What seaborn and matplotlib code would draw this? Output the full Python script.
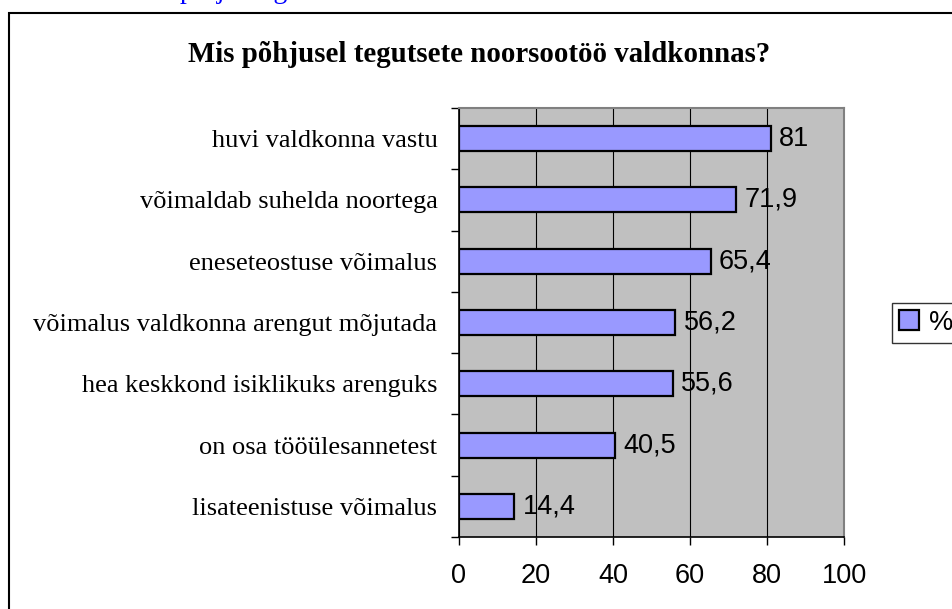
import matplotlib
matplotlib.use('Agg')
import matplotlib.pyplot as plt
from matplotlib.patches import Rectangle
import seaborn as sns
import pandas as pd

categories = ['huvi valdkonna vastu', 'võimaldab suhelda noortega', 'eneseteostuse võimalus',
              'võimalus valdkonna arengut mõjutada', 'hea keskkond isiklikuks arenguks',
              'on osa tööülesannetest', 'lisateenistuse võimalus']
values = [81, 71.9, 65.4, 56.2, 55.6, 40.5, 14.4]
value_labels = ['81', '71,9', '65,4', '56,2', '55,6', '40,5', '14,4']
x_ticks = [0, 20, 40, 60, 80, 100]

df = pd.DataFrame({'reason': categories, 'pct': values})

fig = plt.figure(figsize=(9.52, 6.09), dpi=100)
ax = fig.add_axes([459/952, 1 - 537/609, 385/952, 429/609])

sns.barplot(x='pct', y='reason', data=df, orient='h', color='#9999FF',
            edgecolor='black', linewidth=1.6, width=0.41, saturation=1, ax=ax)

ax.set_facecolor('#C0C0C0')
ax.set_xlim(0, 100)
ax.set_ylim(len(categories) - 0.5, -0.5)
ax.set_xlabel('')
ax.set_ylabel('')

# vertical grid
ax.set_xticks(x_ticks)
ax.set_xticklabels([str(t) for t in x_ticks], fontsize=19.5, family='Liberation Sans')
ax.xaxis.grid(True, color='black', linewidth=0.8)
ax.set_axisbelow(True)
ax.tick_params(axis='x', length=6, width=1, pad=13, colors='black')

# category boundaries as ticks, labels in the middle
ax.set_yticks([i - 0.5 for i in range(len(categories) + 1)])
ax.set_yticklabels([])
ax.set_yticks(range(len(categories)), minor=True)
ax.set_yticklabels(categories, minor=True, fontsize=19, family='Liberation Serif')
ax.tick_params(axis='y', which='major', length=6, width=1)
ax.tick_params(axis='y', which='minor', length=0, pad=15.5)

for side in ['left', 'bottom']:
    ax.spines[side].set_color('black')
    ax.spines[side].set_linewidth(1.2)
for side in ['top', 'right']:
    ax.spines[side].set_color('#808080')
    ax.spines[side].set_linewidth(1.5)

for bar, lab in zip(ax.patches, value_labels):
    ax.annotate(lab, (bar.get_width(), bar.get_y() + bar.get_height() / 2),
                xytext=(6, 0), textcoords='offset points', va='center', ha='left',
                fontsize=19.5, family='Liberation Sans')

ax.legend([ax.patches[0]], ['%'], loc='upper left', bbox_to_anchor=(892/952, 1 - 303/609),
          bbox_transform=fig.transFigure, prop={'family': 'Liberation Sans', 'size': 19.5},
          frameon=True, fancybox=False, edgecolor='black', handlelength=0.75, handleheight=0.75,
          handletextpad=0.35, borderpad=0.25, borderaxespad=0)

fig.text(479/952, 1 - 55/609, 'Mis põhjusel tegutsete noorsootöö valdkonnas?',
         ha='center', va='center', fontsize=20.8, fontweight='bold', family='Liberation Serif')

# cut-off blue line of text above the chart frame
fig.text(180/952, 1 + 2/609, 'projekti g', ha='left', va='baseline', color='#0000FF',
         fontsize=20, family='Liberation Serif')

fig.add_artist(Rectangle((8.5/952, -0.1), 1.2, 1.1 - 13.5/609, transform=fig.transFigure,
                         fill=False, edgecolor='black', linewidth=1.5, clip_on=False))

fig.savefig('out.png', dpi=100)
